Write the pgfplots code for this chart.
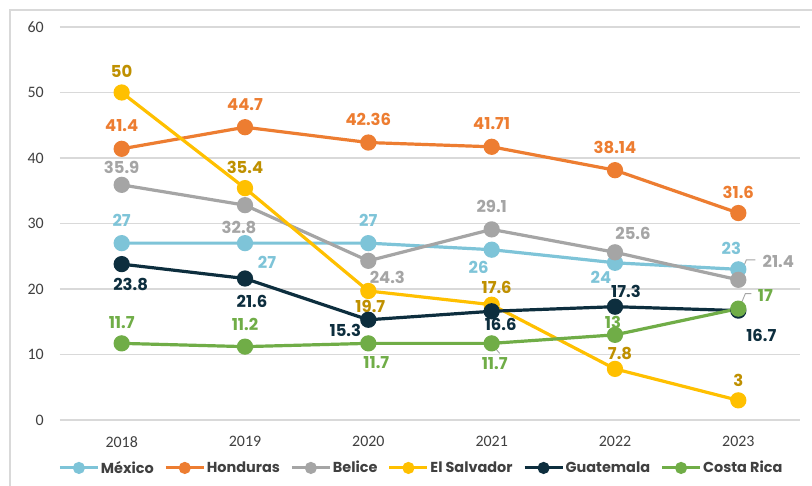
\documentclass[border=0pt]{standalone}
\usepackage{pgfplots}
\pgfplotsset{compat=1.18}
\usepackage{pgfplotstable}
\usepackage{fontspec}
\setmainfont{Poppins}
\newfontfamily\carlito{Carlito}
\definecolor{cmex}{HTML}{7EC4D8}
\definecolor{chon}{HTML}{ED7D31}
\definecolor{cbel}{HTML}{A5A5A5}
\definecolor{csal}{HTML}{FFC000}
\definecolor{csallab}{HTML}{BF9000}
\definecolor{cgua}{HTML}{0D2E3E}
\definecolor{ccos}{HTML}{70AD47}
\definecolor{cframe}{HTML}{D9D9D9}
\definecolor{ctext}{HTML}{404040}

\pgfplotstableread{
x y dx dy
0 27 0 23
1 27 22 -19
2 27 0 23
3 26 -13 -18
4 24 -14 -15
5 23 -7 21
}\mexico
\pgfplotstableread{
x y dx dy
0 41.4 0 23
1 44.7 0 23
2 42.36 0 23
3 41.71 0 23
4 38.14 0 23
5 31.6 0 21
}\honduras
\pgfplotstableread{
x y dx dy
0 35.9 0 17
1 32.8 -6 -22
2 24.3 19 -17
3 29.1 0 23
4 25.6 18 19
5 21.4 40 18
}\belice
\pgfplotstableread{
x y dx dy
0 50 0 21
1 35.4 0 21
2 19.7 2 -15
3 17.6 5 17
4 7.8 5 15
5 3 0 20
}\salvador
\pgfplotstableread{
x y dx dy
0 23.8 9 -20
1 21.6 7 -23
2 15.3 -23 -11
3 16.6 9 -13
4 17.3 11 15
5 16.7 23 -25
}\guatemala
\pgfplotstableread{
x y dx dy
0 11.7 0 21
1 11.2 0 22
2 11.7 8 -19
3 11.7 3 -20
4 13 -2 12
5 17 27 13
}\costarica

\pgfplotsset{
  ser/.style 2 args={
    color=#1, line width=3.2bp, mark=*, mark size=6.5bp, mark options={solid},
    nodes near coords={\pgfplotspointmeta},
    point meta=explicit symbolic,
    visualization depends on={\thisrow{dx} \as \dx},
    visualization depends on={\thisrow{dy} \as \dy},
    every node near coord/.append style={font=\fontsize{16.5}{16.5}\selectfont\bfseries,
      anchor=center, inner sep=0pt, xshift=\dx bp, yshift=\dy bp, text=#2},
  },
}

\begin{document}
\begin{tikzpicture}
\path[use as bounding box] (-60bp,-66bp) rectangle (752bp,420bp);
\fill[white] (-60bp,-66bp) rectangle (752bp,420bp);
\draw[cframe, line width=1.2bp] (-50bp,-80bp) -- (-50bp,410bp) -- (770bp,410bp);
\begin{axis}[
  at={(0,0)}, anchor=south west,
  scale only axis, width=740bp, height=393bp,
  xmin=-0.5, xmax=5.5, ymin=0, ymax=60,
  clip=false,
  axis line style={draw=none},
  major tick length=0pt,
  ymajorgrids,
  grid style={draw=cframe, line width=1.1bp},
  xtick={0,1,2,3,4,5},
  xticklabels={2018,2019,2020,2021,2022,2023},
  ytick={0,10,20,30,40,50,60},
  /pgf/number format/assume math mode=true,
  xticklabel style={font=\carlito\fontsize{16}{16}\selectfont, text=ctext, anchor=north, inner sep=0pt, yshift=-16bp},
  yticklabel style={font=\carlito\fontsize{16}{16}\selectfont, text=ctext, anchor=east, inner sep=0pt, xshift=-16bp},
  legend columns=6,
  legend style={at={(axis description cs:0.488,-0.122)}, anchor=center, draw=none, fill=none,
    font=\fontsize{14.5}{14.5}\selectfont\bfseries, text=ctext, inner sep=0pt,
    /tikz/every even column/.append style={column sep=9bp},
    nodes={inner sep=1.5bp}},
  legend image code/.code={
    \draw[mark repeat=2, mark phase=2, #1, mark size=4.5bp, line width=3bp]
      plot coordinates {(0bp,0bp) (19bp,0bp) (38bp,0bp)};},
]
\addplot[ser={cmex}{cmex}] table[x=x, y=y, meta=y] {\mexico};
\addlegendentry{México}
\addplot[ser={chon}{chon}] table[x=x, y=y, meta=y] {\honduras};
\addlegendentry{Honduras}
\addplot[ser={cbel}{cbel}] table[x=x, y=y, meta=y] {\belice};
\addlegendentry{Belice}
\addplot[ser={csal}{csallab}] table[x=x, y=y, meta=y] {\salvador};
\addlegendentry{El Salvador}
\addplot[ser={cgua}{cgua}] table[x=x, y=y, meta=y] {\guatemala};
\addlegendentry{Guatemala}
\addplot[ser={ccos}{ccos}] table[x=x, y=y, meta=y] {\costarica};
\addlegendentry{Costa Rica}
\draw[cbel, line width=0.9bp] ([xshift=2bp,yshift=5bp]axis cs:5,21.4) -- ++(6bp,15bp) -- ++(9bp,0bp);
\draw[cbel, line width=0.9bp] ([xshift=2bp,yshift=3bp]axis cs:5,17) -- ++(5bp,12bp) -- ++(6bp,0bp);
\draw[cbel, line width=0.9bp] ([xshift=2bp,yshift=-3bp]axis cs:3,11.7) -- ++(6bp,-7bp);
\end{axis}
\end{tikzpicture}
\end{document}
